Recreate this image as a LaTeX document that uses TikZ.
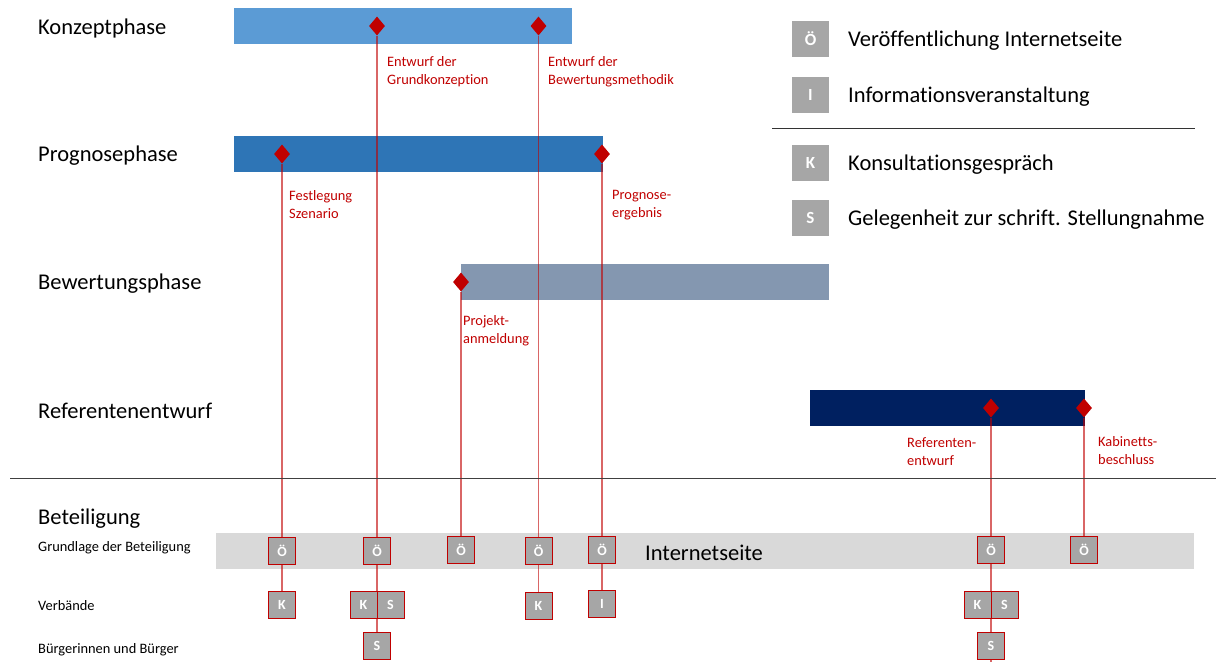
\documentclass[tikz,border=0pt]{standalone}
\usepackage{fontspec}
\setmainfont{Carlito}[Ligatures=NoCommon]
\usetikzlibrary{shapes.geometric}
\definecolor{cKonz}{HTML}{5B9BD5}
\definecolor{cProg}{HTML}{2E75B6}
\definecolor{cBew}{HTML}{8497B0}
\definecolor{cRef}{HTML}{002060}
\definecolor{dred}{HTML}{C00000}
\definecolor{boxgray}{HTML}{A6A6A6}
\definecolor{band}{HTML}{D9D9D9}
\pgfdeclarelayer{bars}
\pgfdeclarelayer{links}
\pgfsetlayers{bars,links,main}
\begin{document}
\begin{tikzpicture}[x=1pt,y=-1pt,
 phase/.style={anchor=west,inner sep=0,font=\fontsize{22.5}{27}\selectfont},
 bar/.style={rectangle,inner sep=0,anchor=north west,draw=none},
 ms/.style={diamond,fill=dred,draw=none,inner sep=0,minimum width=16pt,minimum height=19pt},
 mlabel/.style={anchor=north west,inner sep=0,align=left,text=dred,font=\fontsize{14.4}{18}\selectfont},
 link/.style={draw=dred,draw opacity=0.6,line width=1.6pt},
 pbox/.style={rectangle,fill=boxgray,draw=dred,line width=1pt,minimum size=27pt,inner sep=0,text=white,font=\fontsize{14}{14}\selectfont\bfseries},
 lbox/.style={rectangle,fill=boxgray,minimum width=37pt,minimum height=36pt,inner sep=0,text=white,font=\fontsize{17}{17}\selectfont\bfseries},
 legtext/.style={anchor=west,inner sep=0,font=\fontsize{22.5}{27}\selectfont},
 rowlabel/.style={anchor=west,inner sep=0,font=\fontsize{14.4}{17}\selectfont}]
\useasboundingbox (0,0) rectangle (1216,662);

% phase labels
\node[phase] (lKonz) at (38,28) {Konzeptphase};
\node[phase] (lProg) at (38,156) {Prognosephase};
\node[phase] (lBew) at (38,284) {Bewertungsphase};
\node[phase] (lRef) at (38,411) {Referentenentwurf};

% bars
\begin{pgfonlayer}{bars}
\node[bar,fill=cKonz,minimum width=338pt,minimum height=36pt] (bKonz) at (234,8) {};
\node[bar,fill=cProg,minimum width=369pt,minimum height=36pt] (bProg) at (234,136) {};
\node[bar,fill=cBew,minimum width=368pt,minimum height=36pt] (bBew) at (461,264) {};
\node[bar,fill=cRef,minimum width=275pt,minimum height=36pt] (bRef) at (810,390) {};
\node[bar,fill=band,minimum width=978pt,minimum height=36pt] (band) at (216,533) {};
\end{pgfonlayer}

% milestones
\node[ms] (dGK) at (377,26) {};
\node[ms] (dBM) at (538.5,26) {};
\node[ms] (dFest) at (282,154) {};
\node[ms] (dPE) at (602,154) {};
\node[ms] (dProj) at (461,282) {};
\node[ms] (dRE) at (991,408) {};
\node[ms] (dKB) at (1084,408) {};

% milestone labels
\node[mlabel] (tGK) at (387,56) {Entwurf der\\Grundkonzeption};
\node[mlabel] (tBM) at (548,56) {Entwurf der\\Bewertungsmethodik};
\node[mlabel] (tFest) at (289,190) {Festlegung\\Szenario};
\node[mlabel] (tPE) at (612,190) {Prognose-\\ergebnis};
\node[mlabel] (tProj) at (463,315) {Projekt-\\anmeldung};
\node[mlabel] (tRE) at (907,437) {Referenten-\\entwurf};
\node[mlabel] (tKB) at (1098,436) {Kabinetts-\\beschluss};

% legend
\node[lbox] (lgO) at (810.5,39) {Ö};
\node[legtext] (lgOt) at (848,41) {Veröffentlichung Internetseite};
\node[lbox] (lgI) at (810.5,95) {I};
\node[legtext] (lgIt) at (848,97) {Informationsveranstaltung};
\node[lbox] (lgK) at (810.5,163) {K};
\node[legtext] (lgKt) at (848,165) {Konsultationsgespräch};
\node[lbox] (lgS) at (810.5,218) {S};
\node[legtext] (lgSt) at (848,220) {Gelegenheit zur schrift. Stellungnahme};
\coordinate (sepL) at (772,128);
\coordinate (sepR) at (1195,128);
\draw[black!80,line width=0.8pt] (sepL) -- (sepR);

% divider
\coordinate (divL) at (10,478);
\coordinate (divR) at (1216,478);
\draw[black!75,line width=0.9pt] (divL) -- (divR);

% participation labels
\node[phase] (lBet) at (38,519) {Beteiligung};
\node[rowlabel] (lGrund) at (38,548) {Grundlage der Beteiligung};
\node[rowlabel] (lVerb) at (38,606) {Verbände};
\node[rowlabel] (lBuerg) at (38,650) {Bürgerinnen und Bürger};
\node[phase] (lInt) at (645,553) {Internetseite};

% boxes
\node[pbox] (o1) at (282,551) {Ö};
\node[pbox] (o2) at (377,551) {Ö};
\node[pbox] (o3) at (461,550) {Ö};
\node[pbox] (o4) at (538.5,551) {Ö};
\node[pbox] (o5) at (602,550) {Ö};
\node[pbox] (o6) at (991,550) {Ö};
\node[pbox] (o7) at (1084,550) {Ö};
\node[pbox] (k1) at (282,605) {K};
\node[pbox] (k2) at (363.5,605) {K};
\node[pbox] (s2) at (390.5,605) {S};
\node[pbox] (k4) at (538.5,606) {K};
\node[pbox] (i5) at (602,604) {I};
\node[pbox] (k6) at (977.5,605) {K};
\node[pbox] (s6) at (1004.5,605) {S};
\node[pbox] (b2) at (377,646) {S};
\node[pbox] (b6) at (991,646) {S};
\coordinate (endRE) at (991,662);

% links
\begin{pgfonlayer}{links}
\draw[link] (dFest) -- (k1);
\draw[link] (dGK) -- (b2);
\draw[link] (dProj) -- (o3);
\draw[link] (dBM) -- (k4);
\draw[link] (dPE) -- (i5);
\draw[link] (dRE) -- (endRE);
\draw[link] (dKB) -- (o7);
\end{pgfonlayer}
\end{tikzpicture}
\end{document}
